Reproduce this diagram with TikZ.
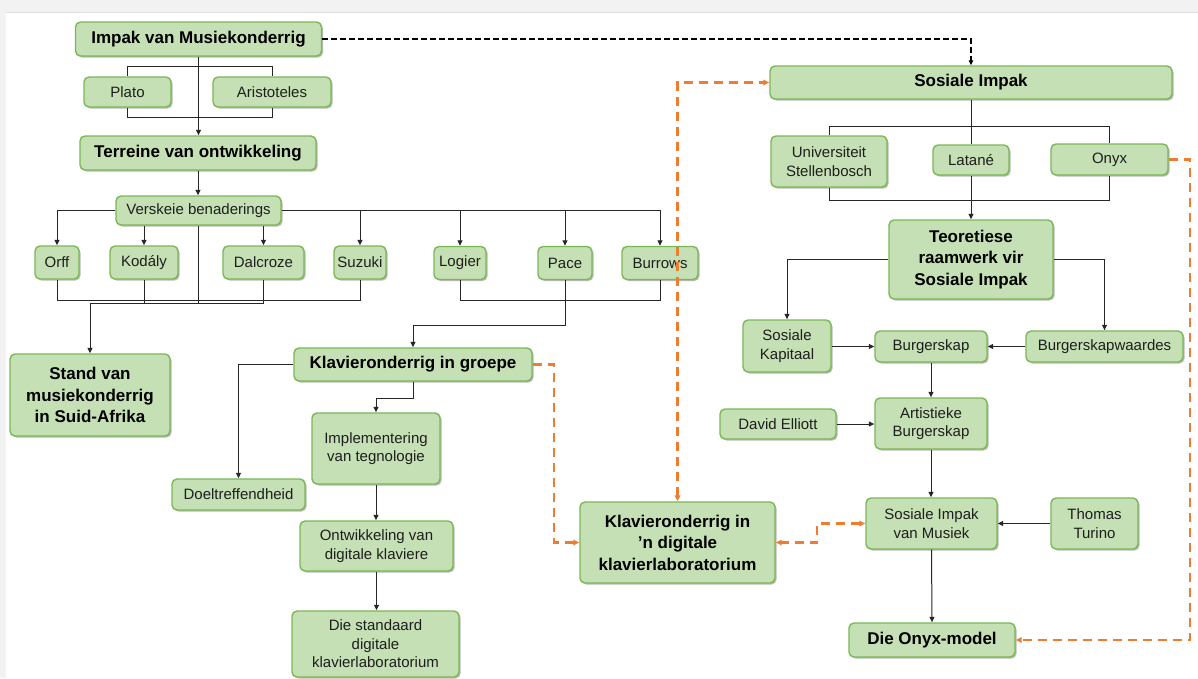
\documentclass[tikz,border=0pt]{standalone}
\usepackage{fontspec}
\setmainfont{Liberation Sans}
\usetikzlibrary{arrows.meta,shadows}

\definecolor{boxfill}{HTML}{C5E0B4}
\definecolor{boxline}{HTML}{7AB855}
\definecolor{linkorange}{HTML}{ED7D31}
\definecolor{txt}{HTML}{1E1E1E}
\definecolor{framegray}{HTML}{F2F2F2}

\tikzset{
  box/.style={draw=boxline, line width=1.4pt, fill=boxfill, rounded corners=5pt,
    align=center, inner sep=1pt, text=txt,
    font=\fontsize{15}{18.5}\selectfont,
    drop shadow={shadow xshift=1.5pt, shadow yshift=-1.5pt, opacity=0.28, fill=black}},
  bbox/.style={box, text=black, font=\bfseries\fontsize{17}{21.5}\selectfont},
  link/.style={draw=black!85, line width=1pt},
  arr/.style={link, -{Triangle[length=5.5pt,width=5pt]}},
  darr/.style={draw=black, line width=1.6pt, dash pattern=on 6pt off 3pt,
    -{Triangle[length=5pt,width=4.5pt]}},
  oline/.style={draw=linkorange, line width=2.2pt, dash pattern=on 9pt off 6pt},
  oarr/.style={oline, -{Triangle[length=6pt,width=5.5pt]}},
  obiarr/.style={oline, {Triangle[length=6pt,width=5.5pt]}-{Triangle[length=6pt,width=5.5pt]}},
}

\begin{document}
\begin{tikzpicture}[x=1pt, y=-1pt]
  % page frame
  \useasboundingbox (0,0) rectangle (1198,678);
  \fill[white] (0,0) rectangle (1198,678);
  \fill[framegray] (0,0) rectangle (1198,12);
  \draw[black!12, line width=0.8pt] (6,12.5) -- (1198,12.5);
  \fill[framegray] (0,12) rectangle (6,678);

  % ---- left branch: music education ----
  \node[bbox, minimum width=246pt, minimum height=34pt] (imp) at (198.5,39) {Impak van Musiekonderrig};
  \node[box, minimum width=87pt, minimum height=30pt] (plato) at (127.5,92) {Plato};
  \node[box, minimum width=118pt, minimum height=30pt] (arist) at (272,92) {Aristoteles};
  \node[bbox, minimum width=236pt, minimum height=34pt] (terr) at (198,153) {Terreine van ontwikkeling};
  \node[box, minimum width=165pt, minimum height=29pt] (versk) at (198.5,210.5) {Verskeie benaderings};

  \node[box, minimum width=44pt, minimum height=33pt] (orff) at (57,262.5) {Orff};
  \node[box, minimum width=68pt, minimum height=33pt] (kodaly) at (144,262.5) {Kodály};
  \node[box, minimum width=81pt, minimum height=33pt] (dalc) at (263.5,262.5) {Dalcroze};
  \node[box, minimum width=52pt, minimum height=33pt] (suzuki) at (360,262.5) {Suzuki};
  \node[box, minimum width=52pt, minimum height=33pt] (logier) at (460,263) {Logier};
  \node[box, minimum width=54pt, minimum height=33pt] (pace) at (565,263) {Pace};
  \node[box, minimum width=76pt, minimum height=33pt] (burrows) at (660,263) {Burrows};

  \node[bbox, minimum width=160pt, minimum height=82pt] (stand) at (90,395) {Stand van\\musiekonderrig\\in Suid-Afrika};
  \node[bbox, minimum width=238pt, minimum height=33pt] (klavg) at (413,364.5) {Klavieronderrig in groepe};
  \node[box, minimum width=133pt, minimum height=31pt] (doel) at (238.5,494.5) {Doeltreffendheid};
  \node[box, minimum width=128pt, minimum height=71pt] (impl) at (376,448.5) {Implementering\\van tegnologie};
  \node[box, minimum width=153pt, minimum height=50pt] (ontw) at (376.5,546) {Ontwikkeling van\\digitale klaviere};
  \node[box, minimum width=167pt, minimum height=66pt] (stdlab) at (375.5,644) {Die standaard\\digitale\\klavierlaboratorium};
  \node[bbox, minimum width=195pt, minimum height=81pt] (klavd) at (677.5,542.5) {Klavieronderrig in\\’n digitale\\klavierlaboratorium};

  % ---- right branch: social impact ----
  \node[bbox, minimum width=402pt, minimum height=33pt] (sos) at (971,82.5) {Sosiale Impak};
  \node[box, minimum width=116pt, minimum height=51pt] (univ) at (829,161.5) {Universiteit\\Stellenbosch};
  \node[box, minimum width=76pt, minimum height=30pt] (latane) at (971,160) {Latané};
  \node[box, minimum width=117pt, minimum height=31pt] (onyx) at (1109.5,159.5) {Onyx};
  \node[bbox, minimum width=164pt, minimum height=79pt] (teor) at (971,259.5) {Teoretiese\\raamwerk vir\\Sosiale Impak};
  \node[box, minimum width=88pt, minimum height=52pt] (kap) at (787,346) {Sosiale\\Kapitaal};
  \node[box, minimum width=112pt, minimum height=31pt] (burg) at (931,346.5) {Burgerskap};
  \node[box, minimum width=157pt, minimum height=31pt] (burgw) at (1104.5,346.5) {Burgerskapwaardes};
  \node[box, minimum width=112pt, minimum height=51pt] (art) at (931,423.5) {Artistieke\\Burgerskap};
  \node[box, minimum width=116pt, minimum height=30pt] (david) at (778,424) {David Elliott};
  \node[box, minimum width=131pt, minimum height=51pt] (simus) at (931.5,523.5) {Sosiale Impak\\van Musiek};
  \node[box, minimum width=87pt, minimum height=51pt] (turino) at (1094.5,523.5) {Thomas\\Turino};
  \node[bbox, minimum width=166pt, minimum height=34pt] (onyxm) at (932,640) {Die Onyx-model};

  % routing points
  \coordinate (paTop) at (198,66);
  \coordinate (paBot) at (198,117);
  \coordinate (lowA) at (0,300);
  \coordinate (lowB) at (0,303);
  \coordinate (paceJ) at (0,325);
  \coordinate (kiJ) at (0,398);
  \coordinate (sTop) at (0,126);
  \coordinate (sBot) at (0,200);
  \coordinate (oJa) at (554,0);
  \coordinate (oJb) at (817,0);
  \coordinate (oJc) at (1190,0);

  % ---- connectors, left branch ----
  \draw[link] (plato.north) -- (plato.north |- paTop) -- (arist.north |- paTop) -- (arist.north);
  \draw[link] (plato.south) -- (plato.south |- paBot) -- (arist.south |- paBot) -- (arist.south);
  \draw[arr] (imp.south) -- (imp.south |- terr.north);
  \draw[arr] (terr.south) -- (terr.south |- versk.north);

  \draw[arr] (versk.west) -| (orff.north);
  \draw[arr] (versk.south -| kodaly.north) -- (kodaly.north);
  \draw[arr] (versk.south -| dalc.north) -- (dalc.north);
  \draw[arr] (versk.east) -| (burrows.north);
  \draw[arr] (versk.east -| suzuki.north) -- (suzuki.north);
  \draw[arr] (versk.east -| logier.north) -- (logier.north);
  \draw[arr] (versk.east -| pace.north) -- (pace.north);

  \draw[link] (orff.south) -- (orff.south |- lowA) -- (suzuki.south |- lowA) -- (suzuki.south);
  \draw[link] (kodaly.south) -- (kodaly.south |- lowB);
  \draw[link] (versk.south) -- (versk.south |- lowB);
  \draw[link] (stand.north |- lowB) -- (dalc.south |- lowB) -- (dalc.south);
  \draw[arr] (stand.north |- lowB) -- (stand.north);

  \draw[link] (logier.south) -- (logier.south |- lowA) -- (burrows.south |- lowA) -- (burrows.south);
  \draw[arr] (pace.south) -- (pace.south |- paceJ) -| (klavg.north);

  \draw[arr] (klavg.west) -| (doel.north);
  \draw[arr] (klavg.south) -- (klavg.south |- kiJ) -| (impl.north);
  \draw[arr] (impl.south) -- (impl.south |- ontw.north);
  \draw[arr] (ontw.south) -- (ontw.south |- stdlab.north);

  % ---- connectors, right branch ----
  \draw[link] (sos.south) -- (latane.north);
  \draw[link] (univ.north) -- (univ.north |- sTop) -- (onyx.north |- sTop) -- (onyx.north);
  \draw[link] (univ.south) -- (univ.south |- sBot) -- (onyx.south |- sBot) -- (onyx.south);
  \draw[arr] (latane.south) -- (teor.north);
  \draw[arr] (teor.west) -| (kap.north);
  \draw[arr] (teor.east) -| (burgw.north);
  \draw[arr] (kap.east |- burg.west) -- (burg.west);
  \draw[arr] (burgw.west) -- (burg.east);
  \draw[arr] (burg.south) -- (art.north);
  \draw[arr] (david.east) -- (art.west |- david.east);
  \draw[arr] (art.south) -- (art.south |- simus.north);
  \draw[arr] (turino.west) -- (simus.east);
  \draw[arr] (simus.south) -- (onyxm.north);

  % ---- cross links ----
  \draw[darr] (imp.east) -| (sos.north);
  \draw[oarr] (klavg.east) -- (klavg.east -| oJa) |- (klavd.west);
  \draw[obiarr] (klavd.north) |- (sos.west);
  \draw[obiarr] (simus.west) -- (simus.west -| oJb) |- (klavd.east);
  \draw[oarr] (onyx.east) -- (onyx.east -| oJc) |- (onyxm.east);
\end{tikzpicture}
\end{document}
